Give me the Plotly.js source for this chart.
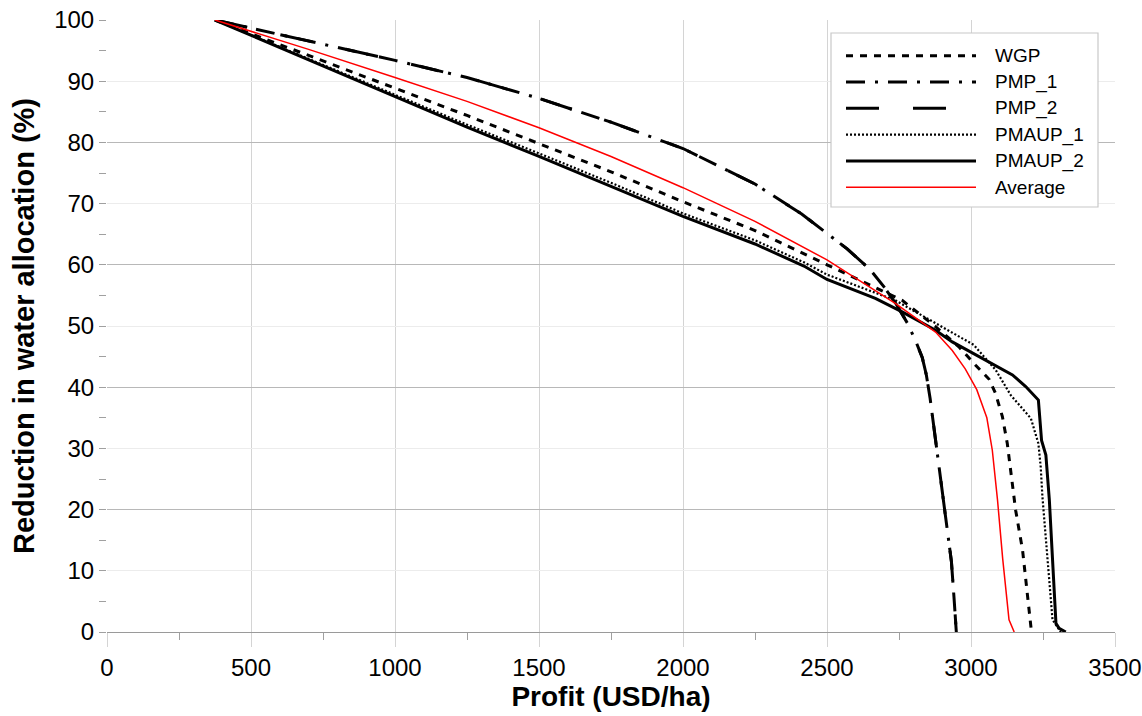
<!DOCTYPE html>
<html><head><meta charset="utf-8">
<script src="https://cdn.plot.ly/plotly-3.0.1.min.js"></script>
<style>html,body{margin:0;padding:0;background:#fff}#chart{width:1142px;height:716px}</style>
</head><body><div id="chart"></div>
<script>
// ---- data ----
const seriesNames = ['WGP', 'PMP_1', 'PMP_2', 'PMAUP_1', 'PMAUP_2', 'Average'];

const wgpProfit = [375, 700, 1000, 1250, 1500, 1750, 2000, 2250, 2500, 2761, 2877, 2958, 3016, 3063, 3085, 3109, 3126, 3144, 3155, 3179, 3202, 3210];
const wgpReduction = [100, 94.2, 88.8, 84.4, 79.8, 75.2, 70.3, 65.6, 60.0, 54.2, 49.9, 46.6, 43.6, 41.3, 39.0, 35.2, 30.8, 23.7, 19.9, 13.4, 4.1, 0];

const pmp1Profit = [375, 700, 1000, 1250, 1500, 1750, 2000, 2250, 2412, 2570, 2650, 2698, 2740, 2780, 2810, 2831, 2845, 2858, 2868, 2880, 2900, 2914, 2932, 2941, 2949];
const pmp1Reduction = [100, 96.6, 93.4, 90.6, 87.2, 83.3, 79.0, 73.2, 68.3, 62.6, 59.2, 56.4, 53.6, 50.4, 47.3, 44.8, 42.0, 38.2, 34.6, 29.8, 22.4, 17.2, 11.5, 5.6, 0];

const pmp2Profit = [375, 700, 1000, 1250, 1500, 1750, 2000, 2250, 2412, 2570, 2650, 2698, 2740, 2780, 2810, 2831, 2845, 2858, 2868, 2880, 2900, 2914, 2932, 2941, 2949];
const pmp2Reduction = [100, 96.6, 93.4, 90.6, 87.2, 83.3, 79.0, 73.2, 68.3, 62.6, 59.2, 56.4, 53.6, 50.4, 47.3, 44.8, 42.0, 38.2, 34.6, 29.8, 22.4, 17.2, 11.5, 5.6, 0];

const pmaup1Profit = [375, 700, 1000, 1250, 1500, 1750, 2000, 2250, 2420, 2500, 2737, 2877, 2935, 3010, 3045, 3086, 3138, 3208, 3234, 3242, 3248, 3272, 3283, 3312];
const pmaup1Reduction = [100, 93.6, 87.7, 82.9, 78.2, 73.4, 68.4, 64.0, 60.4, 58.4, 54.2, 50.4, 48.8, 46.9, 45.0, 42.8, 38.7, 34.9, 30.8, 27.0, 22.1, 8.5, 2.0, 0];

const pmaup2Profit = [375, 700, 1000, 1250, 1500, 1750, 2000, 2250, 2420, 2500, 2668, 2761, 2877, 2935, 3051, 3144, 3190, 3234, 3245, 3260, 3272, 3277, 3295, 3306, 3329];
const pmaup2Reduction = [100, 93.5, 87.4, 82.5, 77.7, 72.8, 67.9, 63.4, 59.8, 57.6, 54.5, 52.3, 49.3, 47.4, 44.4, 42.0, 40.1, 37.9, 31.3, 28.9, 21.6, 16.7, 1.4, 0.6, 0];

const avgProfit = [375, 700, 1000, 1250, 1500, 1750, 2000, 2250, 2500, 2737, 2877, 2935, 2980, 3020, 3055, 3074, 3092, 3110, 3132, 3150];
const avgReduction = [100, 95.2, 90.6, 86.7, 82.4, 77.7, 72.6, 67.1, 60.8, 53.7, 49.0, 46.0, 43.0, 39.6, 35.0, 29.7, 21.6, 12.0, 2.0, 0];

const xTickVals = [0, 500, 1000, 1500, 2000, 2500, 3000, 3500];
const yTickVals = [0, 10, 20, 30, 40, 50, 60, 70, 80, 90, 100];

// ---- styles ----
const lineStyles = [
  {color: '#000000', width: 3, dash: '7px,7px'},
  {color: '#000000', width: 3, dash: '19px,10px,3px,10px'},
  {color: '#000000', width: 3, dash: '33px,34px'},
  {color: '#000000', width: 2.2, dash: '2px,2px'},
  {color: '#000000', width: 3, dash: 'solid'},
  {color: '#ff0000', width: 1.5, dash: 'solid'}
];
const xs = [wgpProfit, pmp1Profit, pmp2Profit, pmaup1Profit, pmaup2Profit, avgProfit];
const ys = [wgpReduction, pmp1Reduction, pmp2Reduction, pmaup1Reduction, pmaup2Reduction, avgReduction];

const FONT = 'Liberation Sans, Arial, sans-serif';

const traces = seriesNames.map((name, i) => ({
  type: 'scatter', mode: 'lines', name: name,
  x: xs[i], y: ys[i],
  line: Object.assign({shape: 'linear'}, lineStyles[i]),
  showlegend: false, hoverinfo: 'skip'
}));

// ---- custom legend (paper coordinates; plot area 1008 x 612 px) ----
const W = 1008, H = 612;
const px2x = p => (p - 107) / W;
const py2y = p => (632 - p) / H;
const shapes = [{
  type: 'rect', xref: 'paper', yref: 'paper',
  x0: px2x(831), x1: px2x(1098), y0: py2y(207), y1: py2y(33),
  line: {color: '#c8c8c8', width: 1.2}, fillcolor: '#ffffff', layer: 'above'
}];
const annotations = [];
seriesNames.forEach((name, i) => {
  const rowPx = 55.7 + 26.3 * i;
  shapes.push({
    type: 'line', xref: 'paper', yref: 'paper', layer: 'above',
    x0: px2x(846), x1: px2x(976), y0: py2y(rowPx), y1: py2y(rowPx),
    line: {color: lineStyles[i].color, width: lineStyles[i].width, dash: lineStyles[i].dash}
  });
  annotations.push({
    xref: 'paper', yref: 'paper', x: px2x(993), y: py2y(rowPx),
    xanchor: 'left', yanchor: 'middle', showarrow: false,
    text: name, font: {family: FONT, size: 19, color: '#000'}
  });
});

const layout = {
  width: 1142, height: 716,
  margin: {l: 107, r: 27, t: 20, b: 84},
  paper_bgcolor: '#ffffff', plot_bgcolor: '#ffffff',
  showlegend: false,
  font: {family: FONT, color: '#000'},
  xaxis: {
    range: [0, 3500], tickvals: xTickVals, ticktext: xTickVals.map(String),
    showgrid: true, gridcolor: '#d4d4d4', gridwidth: 1,
    zeroline: false, showline: true, linecolor: '#9a9a9a', linewidth: 1,
    ticks: 'outside', ticklen: 14, tickcolor: '#d4d4d4', tickwidth: 1,
    minor: {dtick: 250, ticks: 'outside', ticklen: 7, tickcolor: '#a0a0a0', showgrid: false},
    tickfont: {family: FONT, size: 24, color: '#000'},
    ticklabeloverflow: 'allow',
    title: {text: '<b>Profit (USD/ha)</b>', font: {family: FONT, size: 28, color: '#000'}, standoff: 4},
    fixedrange: true
  },
  yaxis: {
    range: [0, 100], tickvals: yTickVals, ticktext: yTickVals.map(String),
    showgrid: true, gridcolor: '#ececec', gridwidth: 1,
    zeroline: false, showline: false,
    ticks: 'outside', ticklen: 7, tickcolor: '#a0a0a0', tickwidth: 1,
    minor: {dtick: 5, ticks: 'outside', ticklen: 7, tickcolor: '#a0a0a0', showgrid: false},
    tickfont: {family: FONT, size: 24, color: '#000'},
    ticklabeloverflow: 'allow',
    title: {text: '<b>Reduction in water allocation (%)</b>', font: {family: FONT, size: 29, color: '#000'}, standoff: 11},
    fixedrange: true
  },
  yaxis2: {
    overlaying: 'y', range: [0, 100], dtick: 20, tick0: 0,
    showgrid: true, gridcolor: '#b8b8b8', gridwidth: 1,
    showticklabels: false, ticks: '', zeroline: false, showline: false, fixedrange: true
  },
  shapes: shapes,
  annotations: annotations
};

// invisible helper trace to activate the overlay grid axis
traces.unshift({type: 'scatter', mode: 'lines', x: [], y: [], yaxis: 'y2', showlegend: false, hoverinfo: 'skip'});

Plotly.newPlot('chart', traces, layout, {displayModeBar: false, staticPlot: true});
</script>
</body></html>
